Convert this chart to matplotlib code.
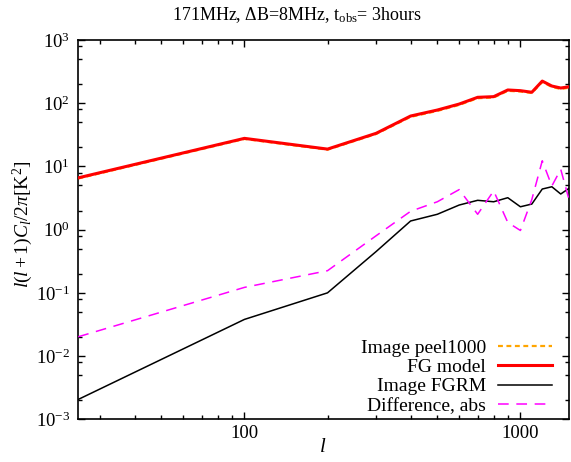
import matplotlib
matplotlib.use('Agg')
import matplotlib.pyplot as plt
from matplotlib.ticker import LogLocator, NullFormatter, FuncFormatter

plt.rcParams['font.family'] = ['Liberation Serif', 'DejaVu Serif']
plt.rcParams['mathtext.fontset'] = 'custom'
plt.rcParams['mathtext.rm'] = 'Liberation Serif'
plt.rcParams['mathtext.it'] = 'Liberation Serif:italic'

# multipole bins and power spectra
ell = [25, 100, 200, 300, 400, 500, 600, 700, 800, 900, 1000, 1100, 1200,
       1300, 1400, 1500]
image_peel1000 = [6.45, 27.2, 18.4, 32.6, 60.8, 75.5, 94.0, 120.0, 123.0,
                  157.0, 153.0, 145.0, 217.0, 181.0, 168.0, 176.0]
fg_model = [6.6, 27.8, 18.8, 33.4, 62.7, 78.0, 97.0, 124.0, 127.0, 162.0,
            158.0, 149.0, 224.0, 187.0, 174.0, 182.0]
image_fgrm = [2.06e-3, 0.038, 0.10, 0.45, 1.37, 1.75, 2.45, 2.91, 2.76, 3.2,
              2.3, 2.54, 4.39, 4.77, 3.66, 4.5]
difference_abs = [0.0202, 0.122, 0.224, 0.80, 1.95, 2.76, 4.3, 1.75, 4.1,
                  1.3, 0.97, 3.0, 12.3, 4.9, 9.0, 3.0]

fig = plt.figure(figsize=(5.71, 4.62), dpi=100)
ax = fig.add_axes([0.1371, 0.0925, 0.8594, 0.8209])

ax.plot(ell, image_peel1000, color='#ffa500', lw=1.6, dashes=(2.2, 1.6),
        label='Image peel1000', zorder=2)
ax.plot(ell, fg_model, color='#ff0000', lw=2.2, label='FG model', zorder=3)
ax.plot(ell, image_fgrm, color='black', lw=1.1, label='Image FGRM', zorder=3)
ax.plot(ell, difference_abs, color='#ff00ff', lw=1.1, dashes=(7, 5),
        label='Difference, abs', zorder=3)

ax.set_xscale('log')
ax.set_yscale('log')
ax.set_xlim(25, 1500)
ax.set_ylim(1e-3, 1e3)

ax.xaxis.set_major_locator(LogLocator(base=10, numticks=10))
ax.xaxis.set_minor_locator(LogLocator(base=10, subs=range(2, 10), numticks=20))
ax.xaxis.set_minor_formatter(NullFormatter())
ax.xaxis.set_major_formatter(FuncFormatter(lambda v, p: '%d' % v))
ax.yaxis.set_major_locator(LogLocator(base=10, numticks=10))
ax.yaxis.set_minor_locator(LogLocator(base=10, subs=(2, 5, 8), numticks=20))
ax.yaxis.set_minor_formatter(NullFormatter())

ax.tick_params(which='both', direction='in', top=True, right=True,
               labelsize=13.5, width=1.0)
ax.tick_params(which='major', length=5)
ax.tick_params(which='minor', length=3)
ax.tick_params(axis='y', which='major', pad=6)
ax.tick_params(axis='x', which='major', pad=4)
for s in ax.spines.values():
    s.set_linewidth(1.2)

fig.text(323 / 571, 1 - 447 / 462, r'$l$', ha='center', va='center',
         fontsize=15)
fig.text(23 / 571, 1 - 224 / 462,
         r'$l(l+1)C_l/2\pi[\mathrm{K}^2]$', rotation=90,
         ha='center', va='center', fontsize=14)
fig.text(297 / 571, 1 - 15 / 462,
         r'171MHz, $\Delta$B=8MHz, t$_{\mathrm{obs}}$= 3hours',
         ha='center', va='center', fontsize=13)

ax.legend(loc='lower right', bbox_to_anchor=(0.9653, 0.012),
          frameon=False, markerfirst=False, fontsize=14, borderpad=0,
          borderaxespad=0, labelspacing=0.09, handlelength=2.8,
          handletextpad=0.6)

fig.savefig('out.png', dpi=100)
